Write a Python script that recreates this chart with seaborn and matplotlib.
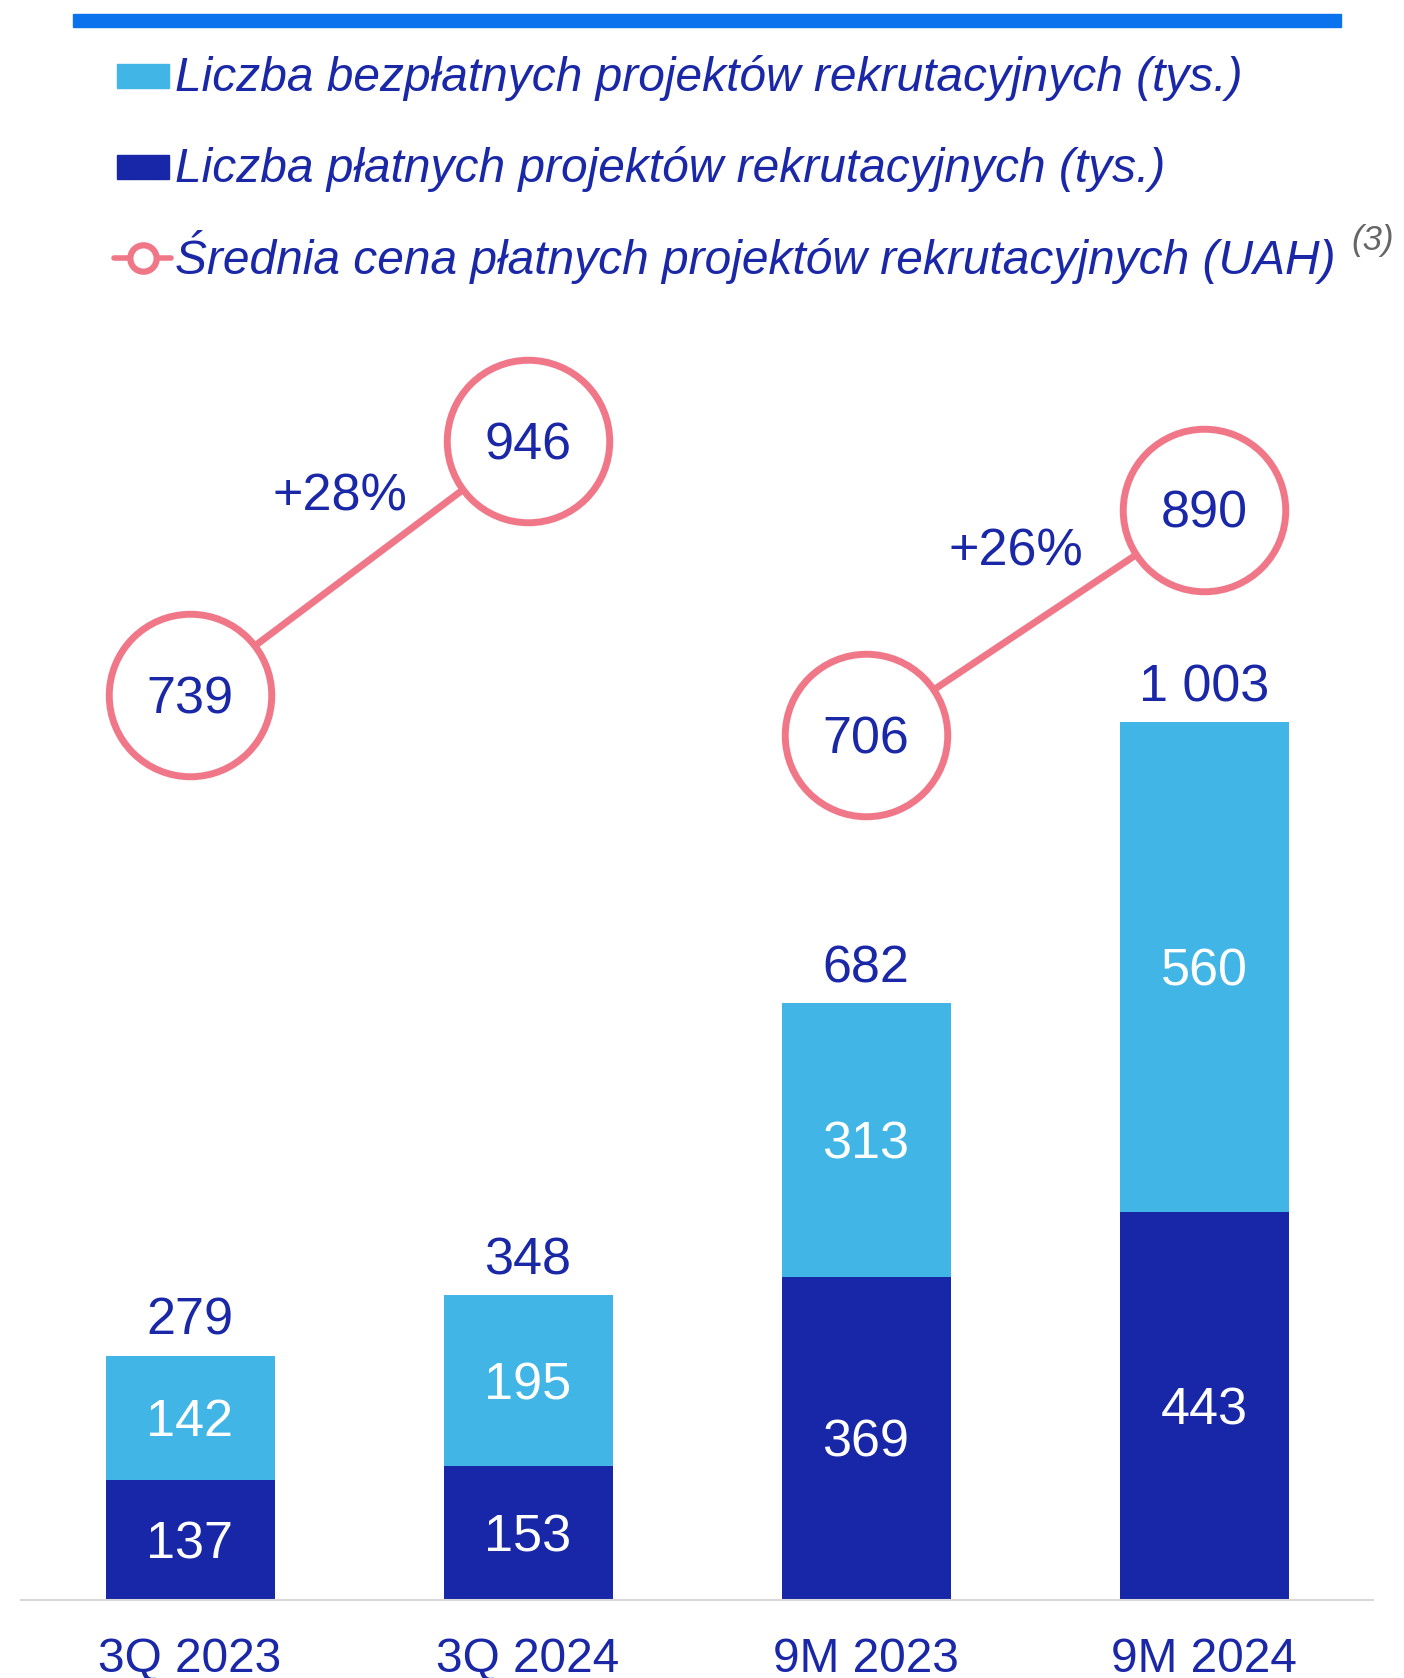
import numpy as np
import pandas as pd
import seaborn as sns
import matplotlib.pyplot as plt
from matplotlib.patches import Rectangle
from matplotlib.lines import Line2D

# ---- data ----
periods = ['3Q 2023', '3Q 2024', '9M 2023', '9M 2024']
paid = [137, 153, 369, 443]          # tys.
free = [142, 195, 313, 560]          # tys.
avg_price = [739, 946, 706, 890]     # UAH
price_group = ['3Q', '3Q', '9M', '9M']
growth = ['+28%', '+26%']

legend_labels = [
    'Liczba bezpłatnych projektów rekrutacyjnych (tys.)',
    'Liczba płatnych projektów rekrutacyjnych (tys.)',
    'Średnia cena płatnych projektów rekrutacyjnych (UAH)',
]
footnote = '(3)'

# ---- style ----
DARK = '#1826a8'
LIGHT = '#41b6e6'
PINK = '#f07788'
TEXT = '#1a28a8'
TOPLINE = '#0a72ec'
NUM = 37.5

sns.set_style('white')
plt.rcParams['font.family'] = ['Liberation Sans', 'DejaVu Sans']

W, H = 1404, 1678
fig = plt.figure(figsize=(W / 100, H / 100), dpi=100)


def fx(px):
    return px / W


def fy(py):
    return 1 - py / H


ax = fig.add_axes([fx(21), fy(1600), fx(1373) - fx(21), fy(300) - fy(1600)])

df = pd.DataFrame({'period': periods, 'paid': paid, 'free': free})
df['total'] = df['paid'] + df['free']

# stacked bars: total in light blue, paid part on top in dark blue
sns.barplot(data=df, x='period', y='total', color=LIGHT, saturation=1,
            width=0.5, linewidth=0, errorbar=None, ax=ax)
sns.barplot(data=df, x='period', y='paid', color=DARK, saturation=1,
            width=0.5, linewidth=0, errorbar=None, ax=ax)

for i, row in df.iterrows():
    ax.annotate(f"{row.total:,}".replace(',', ' '), (i, row.total),
                xytext=(0, 15), textcoords='offset points',
                ha='center', va='baseline', fontsize=NUM, color=TEXT)
    ax.annotate(str(row.paid), (i, row.paid / 2),
                xytext=(0, -13.3), textcoords='offset points',
                ha='center', va='baseline', fontsize=NUM, color='white')
    ax.annotate(str(row.free), (i, row.paid + row.free / 2),
                xytext=(0, -13.3), textcoords='offset points',
                ha='center', va='baseline', fontsize=NUM, color='white')

ax.set_ylim(0, 1485)
ax.set_yticks([])
ax.set_xlabel('')
ax.set_ylabel('')
sns.despine(ax=ax, left=True)
ax.spines['bottom'].set_color('#d9d9d9')
ax.spines['bottom'].set_linewidth(1.5)
ax.tick_params(axis='x', length=0, pad=26.5, labelsize=34.5, labelcolor=TEXT)

# ---- average price line on a second scale ----
ax2 = ax.twinx()
pdf = pd.DataFrame({'x': range(len(periods)), 'price': avg_price, 'grp': price_group})
sns.lineplot(data=pdf, x='x', y='price', units='grp', estimator=None,
             color=PINK, linewidth=5, marker='o', markersize=117,
             markerfacecolor='white', markeredgecolor=PINK,
             markeredgewidth=5, ax=ax2)
for i, v in enumerate(avg_price):
    ax2.annotate(str(v), (i, v), xytext=(0, -13.3), textcoords='offset points',
                 ha='center', va='baseline', fontsize=NUM, color=TEXT)
for k, g in enumerate(growth):
    a, b = 2 * k, 2 * k + 1
    ax2.annotate(g, ((a + b) / 2, (avg_price[a] + avg_price[b]) / 2),
                 xytext=(-14, 41), textcoords='offset points',
                 ha='center', va='baseline', fontsize=NUM, color=TEXT)
ax2.set_ylim(0, 1061)
ax2.set_yticks([])
ax2.set_ylabel('')
for s in ax2.spines.values():
    s.set_visible(False)
ax.set_xlim(-0.5, 3.5)

# ---- header: blue rule + legend ----
fig.add_artist(Rectangle((fx(73), fy(27)), fx(1341) - fx(73), fy(14) - fy(27),
                         color=TOPLINE, transform=fig.transFigure))

baselines = [91, 182, 274]
fig.add_artist(Rectangle((fx(117), fy(88)), fx(169) - fx(117), fy(64) - fy(88),
                         color=LIGHT, transform=fig.transFigure))
fig.add_artist(Rectangle((fx(117), fy(179)), fx(169) - fx(117), fy(155) - fy(179),
                         color=DARK, transform=fig.transFigure))
fig.add_artist(Line2D([fx(114), fx(171)], [fy(258), fy(258)], color=PINK,
                      linewidth=4, transform=fig.transFigure))
fig.add_artist(Line2D([fx(142.5)], [fy(258)], marker='o', markersize=19,
                      markerfacecolor='white', markeredgecolor=PINK,
                      markeredgewidth=4.5, transform=fig.transFigure))

for lab, by in zip(legend_labels, baselines):
    fig.text(fx(175), fy(by), lab, fontsize=34.5, style='italic',
             color=TEXT, va='baseline')
fig.text(fx(1351), fy(250), footnote, fontsize=25, style='italic',
         color='#666666', va='baseline')

fig.savefig('out.png', dpi=100)
